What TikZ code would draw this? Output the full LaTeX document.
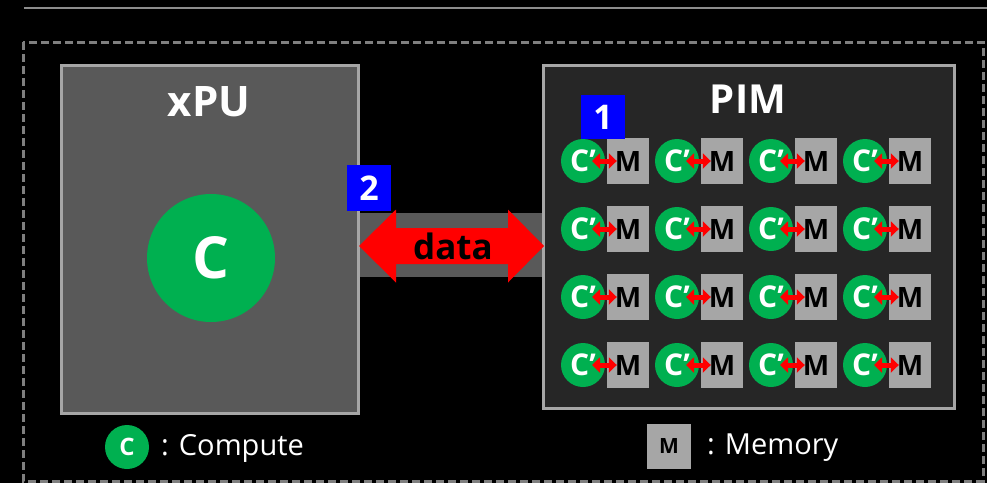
\documentclass[tikz,border=0pt]{standalone}
\usepackage{fontspec}
\setmainfont{Open Sans}
\usetikzlibrary{arrows.meta,calc}
\definecolor{cgreen}{HTML}{00B050}
\definecolor{xpufill}{HTML}{595959}
\definecolor{pimfill}{HTML}{262626}
\definecolor{edgegray}{HTML}{A6A6A6}
\definecolor{dashgray}{HTML}{7F7F7F}
\definecolor{badgeblue}{HTML}{0000FF}
\newcommand{\fs}[1]{\fontsize{#1}{#1}\selectfont}
\tikzset{
  unitbox/.style={draw=edgegray, line width=3pt, inner sep=0pt, anchor=north west},
  title/.style={text=white, font=\bfseries\fs{40}, inner sep=0pt},
  cpu/.style={circle, fill=cgreen, inner sep=0pt, text=white},
  cprime/.style={cpu, minimum size=44pt, font=\bfseries\fs{30}},
  mem/.style={rectangle, fill=edgegray, inner sep=0pt, text=black},
  memcell/.style={mem, minimum width=42pt, minimum height=46pt, font=\bfseries\fs{28}},
  badge/.style={rectangle, fill=badgeblue, inner sep=0pt, text=white, font=\bfseries\fs{34}},
  cmlink/.style={red, line width=5pt, {Triangle[length=8pt,width=15pt]}-{Triangle[length=8pt,width=15pt]}},
  legend/.style={text=white, font=\fs{29}, inner sep=0pt, anchor=base west}
}
\begin{document}
\begin{tikzpicture}[x=1pt,y=-1pt]
  % page background and frame
  \fill[black] (0,0) rectangle (987,483);
  \useasboundingbox (0,0) rectangle (987,483);
  \draw[edgegray!85!black, line width=1.5pt] (24,8) -- (987,8);
  \draw[dashgray, line width=3pt, dash pattern=on 8pt off 4pt] (23,42) rectangle (983,481);

  % link band between the two units
  \fill[xpufill] (356,213) rectangle (543,277);

  % processor unit
  \node[unitbox, fill=xpufill, minimum width=297pt, minimum height=348pt] (xpu) at (60,64) {};
  \node[title, font=\bfseries\fs{42}] (xputitle) at (209,102) {xPU};
  \node[cpu, minimum size=128pt, font=\bfseries\fs{58}] (cbig) at (211,258) {C};

  % processing-in-memory unit
  \node[unitbox, fill=pimfill, minimum width=411pt, minimum height=343pt] (pim) at (542,64) {};
  \node[title] (pimtitle) at (748,99) {PIM};

  % 4x4 array of compute/memory pairs
  \foreach \col in {1,...,4}{
    \foreach \row in {1,...,4}{
      \node[cprime] (c\col\row) at ({583+94*(\col-1)},{161+68*(\row-1)}) {C’};
      \node[memcell] (m\col\row) at ({628+94*(\col-1)},{161+68*(\row-1)}) {M};
      \draw[cmlink] ([xshift=9pt]c\col\row.center) -- ([xshift=10pt]m\col\row.west);
    }
  }

  % data transfer arrow
  \coordinate (dl) at (359,246);
  \coordinate (dr) at (544,246);
  \fill[red] (dl) -- ($(dl)+(37,-36.5)$) -- ($(dl)+(37,-18)$) -- ($(dr)+(-36,-18)$)
    -- ($(dr)+(-36,-36.5)$) -- (dr) -- ($(dr)+(-36,36.5)$) -- ($(dr)+(-36,18)$)
    -- ($(dl)+(37,18)$) -- ($(dl)+(37,36.5)$) -- cycle;
  \node[text=black, font=\bfseries\fs{35}, inner sep=0pt] (data) at (453,246) {data};

  % numbered markers
  \node[badge, minimum width=44pt, minimum height=44pt] (b1) at (603,117) {1};
  \node[badge, minimum width=44pt, minimum height=46pt] (b2) at (369,188) {2};

  % legend
  \node[cpu, minimum size=44pt, font=\bfseries\fs{24}] (lc) at (127,447) {C};
  \node[legend] (lctext) at (161,455) {: Compute};
  \node[mem, minimum width=44pt, minimum height=45pt, font=\bfseries\fs{21}] (lm) at (669,446) {M};
  \node[legend] (lmtext) at (707,454) {: Memory};
\end{tikzpicture}
\end{document}
